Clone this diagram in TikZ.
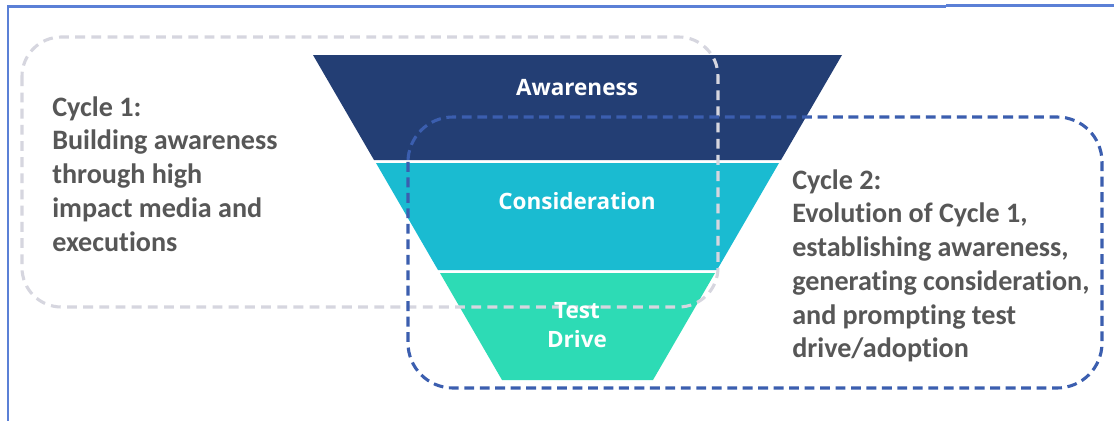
\documentclass[tikz,border=0pt]{standalone}
\usepackage{fontspec}
\setmainfont{Carlito}[Ligatures=NoCommon]
\newfontfamily\funnelfont{Open Sans}
\usepackage{xcolor}
\usetikzlibrary{calc}
\definecolor{frame}{HTML}{5B80D6}
\definecolor{aware}{HTML}{233E74}
\definecolor{consid}{HTML}{1ABBD1}
\definecolor{drive}{HTML}{2DDBB5}
\definecolor{cycleone}{HTML}{D6D6DF}
\definecolor{cycletwo}{HTML}{3B5EAF}
\definecolor{text}{HTML}{575757}
\tikzset{
  frameline/.style={draw=frame, line width=1.5pt},
  loopone/.style={draw=cycleone, line width=2.2pt, dash pattern=on 7pt off 4.5pt, rounded corners=28pt},
  looptwo/.style={draw=cycletwo, line width=2.2pt, dash pattern=on 7pt off 4pt, rounded corners=32pt},
  bandlab/.style={text=white, font=\funnelfont\bfseries\fontsize{16}{21}\selectfont, align=center, inner sep=0pt},
  cyclelab/.style={text=text, font=\bfseries\fontsize{20}{24}\selectfont, align=left, inner sep=0pt, anchor=north west},
}
\begin{document}
\begin{tikzpicture}[x=0.025cm, y=-0.025cm]
  \useasboundingbox[fill=white] (0,0) rectangle (1114,421);
  % outer frame
  \draw[frameline] (8,421) -- (8,6.5) -- (946,6.5);
  \draw[frameline] (946,5.5) -- (1114,5.5);
  % funnel
  \fill[aware] (313,55) -- (842,55) -- (781,160) -- (374,160) -- cycle;
  \fill[consid] (376,163) -- (779,163) -- (717,270) -- (438,270) -- cycle;
  \fill[drive] (440,273) -- (715,273) -- (653,380) -- (502,380) -- cycle;
  % cycles
  \draw[loopone] (22,37) rectangle (718,307);
  \draw[looptwo] (408,117) rectangle (1102,388);
  % labels
  \node[bandlab] (awareness) at (577,88) {Awareness};
  \node[bandlab] (consideration) at (577,201) {Consideration};
  \node[bandlab] (testdrive) at (577,325) {Test\\Drive};
  \node[cyclelab] (cycleone) at (52,96) {Cycle 1:\\Building awareness\\through high\\impact media and\\executions};
  \node[cyclelab] (cycletwo) at (792,169) {Cycle 2:\\Evolution of Cycle 1,\\establishing awareness,\\generating consideration,\\and prompting test\\drive/adoption};
\end{tikzpicture}
\end{document}
